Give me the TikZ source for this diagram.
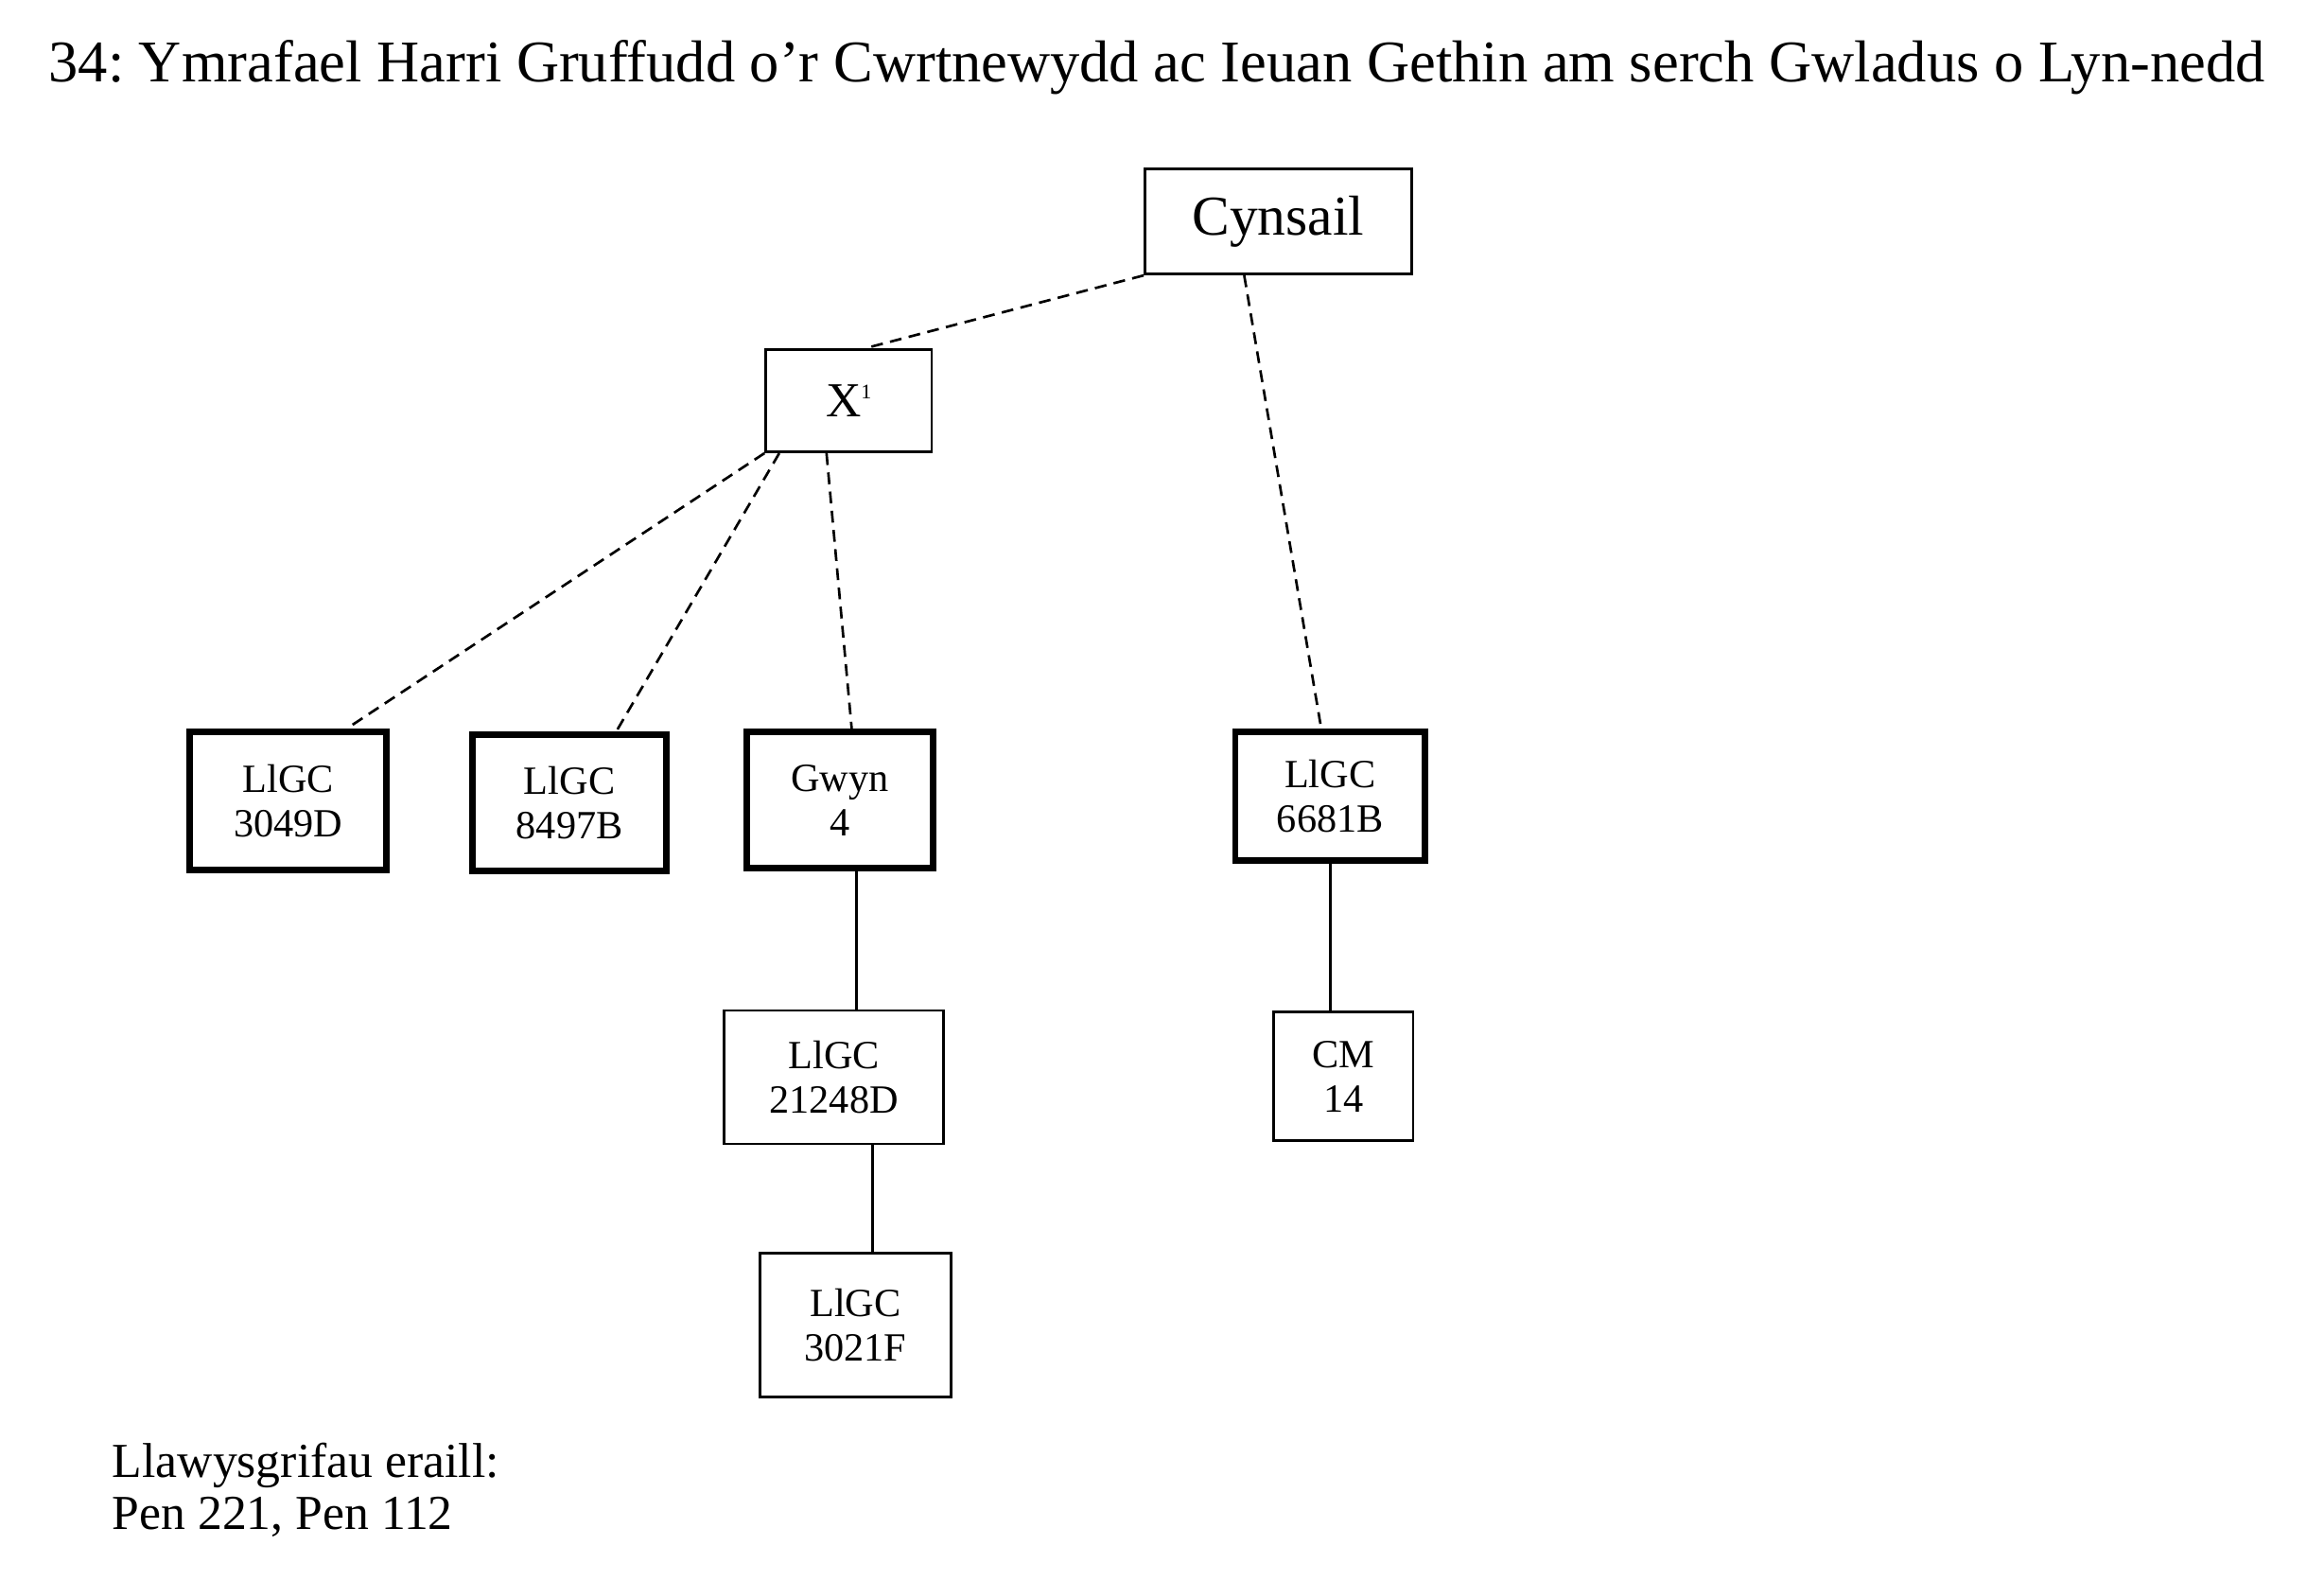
\documentclass[tikz,border=0pt]{standalone}
\usepackage{fontspec}
\setmainfont{Liberation Serif}
\frenchspacing
\begin{document}
\begin{tikzpicture}[x=1pt, y=-1pt,
  every node/.style={draw, rectangle, align=center, inner sep=0pt, line width=1.8pt,
    font=\fontsize{27}{30}\selectfont},
  thickbox/.style={line width=4.4pt},
  link/.style={dashed, line width=1.7pt, dash pattern=on 8pt off 5pt},
  copy/.style={line width=1.8pt}]
  \useasboundingbox (0,0) rectangle (1569,1067);
  \node [draw=none, anchor=base west, font=\fontsize{39.9}{44}\selectfont] (title) at (32,55)
    {34: Ymrafael Harri Gruffudd o’r Cwrtnewydd ac Ieuan Gethin am serch Gwladus o Lyn-nedd};
  \node [minimum width=180pt, minimum height=71pt, font=\fontsize{38}{40}\selectfont] (cyn) at (863,149.5) {Cynsail};
  \node [minimum width=112pt, minimum height=69pt, font=\fontsize{33}{36}\selectfont] (x1) at (573,270.5)
    {X\raisebox{12.5pt}{\fontsize{14}{14}\selectfont 1}};
  \node [thickbox, minimum width=133pt, minimum height=93pt] (b3049) at (194.5,540.5) {LlGC\\3049D};
  \node [thickbox, minimum width=131pt, minimum height=92pt] (b8497) at (384.5,542) {LlGC\\8497B};
  \node [thickbox, minimum width=126pt, minimum height=92pt] (gwyn) at (567,540) {Gwyn\\4};
  \node [thickbox, minimum width=128pt, minimum height=87pt] (b6681) at (898,537.5) {LlGC\\6681B};
  \node [minimum width=148pt, minimum height=90pt] (b21248) at (563,727) {LlGC\\21248D};
  \node [minimum width=94pt, minimum height=87pt] (cm) at (907,726.5) {CM\\14};
  \node [minimum width=129pt, minimum height=97pt] (b3021) at (577.5,894.5) {LlGC\\3021F};
  \node [draw=none, anchor=base west, align=left, font=\fontsize{33}{35}\selectfont] (other) at (75,1032)
    {Llawysgrifau eraill:\\Pen 221, Pen 112};
  \draw [link] (cyn.south west) -- ([xshift=11pt]x1.north);
  \draw [link] ([xshift=-23pt]cyn.south) -- ([xshift=-6pt]b6681.north);
  \draw [link] (x1.south west) -- ([xshift=39.5pt]b3049.north);
  \draw [link] ([xshift=10pt]x1.south west) -- ([xshift=31.5pt]b8497.north);
  \draw [link] ([xshift=-15pt]x1.south) -- ([xshift=8pt]gwyn.north);
  \draw [copy] ([xshift=11pt]gwyn.south) -- ([xshift=15pt]b21248.north);
  \draw [copy] ([xshift=26pt]b21248.south) -- ([xshift=11.5pt]b3021.north);
  \draw [copy] (b6681.south) -- ([xshift=-9pt]cm.north);
\end{tikzpicture}
\end{document}
